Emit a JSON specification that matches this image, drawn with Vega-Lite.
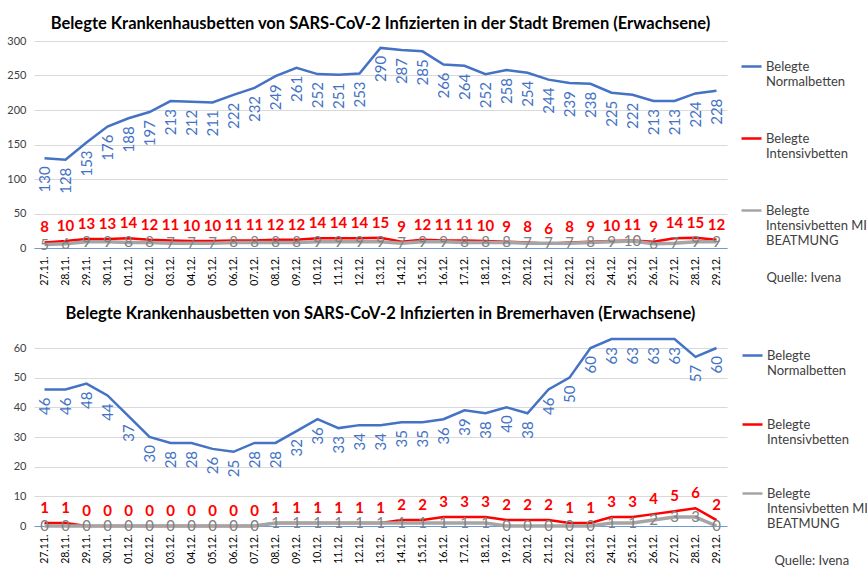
{
  "$schema": "https://vega.github.io/schema/vega-lite/v6.json",
  "background": "white",
  "padding": {"left": 4, "top": 15, "right": 0, "bottom": 0},
  "spacing": 19,
  "datasets": {
    "bremen": [
      {"d": "27.11.", "N": 130, "I": 8, "B": 5},
      {"d": "28.11.", "N": 128, "I": 10, "B": 6},
      {"d": "29.11.", "N": 153, "I": 13, "B": 9},
      {"d": "30.11.", "N": 176, "I": 13, "B": 9},
      {"d": "01.12.", "N": 188, "I": 14, "B": 8},
      {"d": "02.12.", "N": 197, "I": 12, "B": 8},
      {"d": "03.12.", "N": 213, "I": 11, "B": 7},
      {"d": "04.12.", "N": 212, "I": 10, "B": 7},
      {"d": "05.12.", "N": 211, "I": 10, "B": 7},
      {"d": "06.12.", "N": 222, "I": 11, "B": 8},
      {"d": "07.12.", "N": 232, "I": 11, "B": 8},
      {"d": "08.12.", "N": 249, "I": 12, "B": 8},
      {"d": "09.12.", "N": 261, "I": 12, "B": 8},
      {"d": "10.12.", "N": 252, "I": 14, "B": 9},
      {"d": "11.12.", "N": 251, "I": 14, "B": 9},
      {"d": "12.12.", "N": 253, "I": 14, "B": 9},
      {"d": "13.12.", "N": 290, "I": 15, "B": 9},
      {"d": "14.12.", "N": 287, "I": 9, "B": 7},
      {"d": "15.12.", "N": 285, "I": 12, "B": 9},
      {"d": "16.12.", "N": 266, "I": 11, "B": 9},
      {"d": "17.12.", "N": 264, "I": 11, "B": 8},
      {"d": "18.12.", "N": 252, "I": 10, "B": 8},
      {"d": "19.12.", "N": 258, "I": 9, "B": 8},
      {"d": "20.12.", "N": 254, "I": 8, "B": 7},
      {"d": "21.12.", "N": 244, "I": 6, "B": 7},
      {"d": "22.12.", "N": 239, "I": 8, "B": 7},
      {"d": "23.12.", "N": 238, "I": 9, "B": 8},
      {"d": "24.12.", "N": 225, "I": 10, "B": 9},
      {"d": "25.12.", "N": 222, "I": 11, "B": 10},
      {"d": "26.12.", "N": 213, "I": 9, "B": 6},
      {"d": "27.12.", "N": 213, "I": 14, "B": 7},
      {"d": "28.12.", "N": 224, "I": 15, "B": 9},
      {"d": "29.12.", "N": 228, "I": 12, "B": 9}
    ],
    "bremerhaven": [
      {"d": "27.11.", "N": 46, "I": 1, "B": 0},
      {"d": "28.11.", "N": 46, "I": 1, "B": 0},
      {"d": "29.11.", "N": 48, "I": 0, "B": 0},
      {"d": "30.11.", "N": 44, "I": 0, "B": 0},
      {"d": "01.12.", "N": 37, "I": 0, "B": 0},
      {"d": "02.12.", "N": 30, "I": 0, "B": 0},
      {"d": "03.12.", "N": 28, "I": 0, "B": 0},
      {"d": "04.12.", "N": 28, "I": 0, "B": 0},
      {"d": "05.12.", "N": 26, "I": 0, "B": 0},
      {"d": "06.12.", "N": 25, "I": 0, "B": 0},
      {"d": "07.12.", "N": 28, "I": 0, "B": 0},
      {"d": "08.12.", "N": 28, "I": 1, "B": 1},
      {"d": "09.12.", "N": 32, "I": 1, "B": 1},
      {"d": "10.12.", "N": 36, "I": 1, "B": 1},
      {"d": "11.12.", "N": 33, "I": 1, "B": 1},
      {"d": "12.12.", "N": 34, "I": 1, "B": 1},
      {"d": "13.12.", "N": 34, "I": 1, "B": 1},
      {"d": "14.12.", "N": 35, "I": 2, "B": 1},
      {"d": "15.12.", "N": 35, "I": 2, "B": 1},
      {"d": "16.12.", "N": 36, "I": 3, "B": 1},
      {"d": "17.12.", "N": 39, "I": 3, "B": 1},
      {"d": "18.12.", "N": 38, "I": 3, "B": 1},
      {"d": "19.12.", "N": 40, "I": 2, "B": 0},
      {"d": "20.12.", "N": 38, "I": 2, "B": 0},
      {"d": "21.12.", "N": 46, "I": 2, "B": 0},
      {"d": "22.12.", "N": 50, "I": 1, "B": 0},
      {"d": "23.12.", "N": 60, "I": 1, "B": 0},
      {"d": "24.12.", "N": 63, "I": 3, "B": 1},
      {"d": "25.12.", "N": 63, "I": 3, "B": 1},
      {"d": "26.12.", "N": 63, "I": 4, "B": 2},
      {"d": "27.12.", "N": 63, "I": 5, "B": 3},
      {"d": "28.12.", "N": 57, "I": 6, "B": 3},
      {"d": "29.12.", "N": 60, "I": 2, "B": 0}
    ]
  },
  "vconcat": [
    {
      "width": 693,
      "height": 207,
      "title": {"text": "Belegte Krankenhausbetten von SARS-CoV-2 Infizierten in der Stadt Bremen (Erwachsene)", "offset": 3},
      "data": {"name": "bremen"},
      "transform": [{"fold": ["N", "I", "B"], "as": ["k", "v"]}],
      "encoding": {
        "x": {"field": "d", "type": "ordinal", "sort": null,
              "axis": {"title": "Quelle: Ivena", "titleX": 732, "titleY": 29}},
        "y": {"field": "v", "type": "quantitative",
              "scale": {"domain": [0, 300], "nice": false},
              "axis": {"values": [0, 50, 100, 150, 200, 250, 300]}}
      },
      "layer": [
        {"transform": [{"filter": "datum.k == 'N'"}], "mark": {"type": "line", "strokeWidth": 2.5},
         "encoding": {"color": {"field": "k", "type": "nominal", "scale": {"domain": ["N", "I", "B"], "range": ["#4472C4", "#FF0000", "#A5A5A5"]},
           "legend": {"rowPadding": 38, "legendX": 706, "legendY": 14,
             "labelExpr": "datum.value == 'N' ? ['Belegte', 'Normalbetten'] : datum.value == 'I' ? ['Belegte', 'Intensivbetten'] : ['Belegte', 'Intensivbetten MIT', 'BEATMUNG']"}}}},
        {"transform": [{"filter": "datum.k == 'I'"}], "mark": {"type": "line", "strokeWidth": 2.5},
         "encoding": {"color": {"field": "k", "type": "nominal"}}},
        {"transform": [{"filter": "datum.k == 'B'"}], "mark": {"type": "line", "strokeWidth": 3.5},
         "encoding": {"color": {"field": "k", "type": "nominal"}}},
        {"transform": [{"filter": "datum.k == 'N'"}],
         "mark": {"type": "text", "angle": 270, "align": "right", "baseline": "middle", "font": "Lato", "fontSize": 15, "color": "#4472C4", "yOffset": 8},
         "encoding": {"text": {"field": "v", "type": "quantitative"}}},
        {"transform": [{"filter": "datum.k == 'I'"}],
         "mark": {"type": "text", "align": "center", "baseline": "alphabetic", "font": "Lato", "fontWeight": "bold", "fontSize": 15, "color": "#FF0000", "yOffset": -10},
         "encoding": {"text": {"field": "v", "type": "quantitative"}}},
        {"transform": [{"filter": "datum.k == 'B'"}],
         "mark": {"type": "text", "align": "center", "baseline": "middle", "font": "Lato", "fontSize": 15, "color": "#808080"},
         "encoding": {"text": {"field": "v", "type": "quantitative"}}}
      ]
    },
    {
      "width": 693,
      "height": 178,
      "title": {"text": "Belegte Krankenhausbetten von SARS-CoV-2 Infizierten in Bremerhaven (Erwachsene)", "offset": 12},
      "data": {"name": "bremerhaven"},
      "transform": [{"fold": ["N", "I", "B"], "as": ["k", "v"]}],
      "encoding": {
        "x": {"field": "d", "type": "ordinal", "sort": null,
              "axis": {"title": "Quelle: Ivena", "titleX": 740, "titleY": 34}},
        "y": {"field": "v", "type": "quantitative",
              "scale": {"domain": [0, 60], "nice": false},
              "axis": {"values": [0, 10, 20, 30, 40, 50, 60]}}
      },
      "layer": [
        {"transform": [{"filter": "datum.k == 'N'"}], "mark": {"type": "line", "strokeWidth": 2.5, "clip": false},
         "encoding": {"color": {"field": "k", "type": "nominal", "scale": {"domain": ["N", "I", "B"], "range": ["#4472C4", "#FF0000", "#A5A5A5"]},
           "legend": {"rowPadding": 35, "legendX": 707, "legendY": -4,
             "labelExpr": "datum.value == 'N' ? ['Belegte', 'Normalbetten'] : datum.value == 'I' ? ['Belegte', 'Intensivbetten'] : ['Belegte', 'Intensivbetten MIT', 'BEATMUNG']"}}}},
        {"transform": [{"filter": "datum.k == 'I'"}], "mark": {"type": "line", "strokeWidth": 2.5},
         "encoding": {"color": {"field": "k", "type": "nominal"}}},
        {"transform": [{"filter": "datum.k == 'B'"}], "mark": {"type": "line", "strokeWidth": 3.5},
         "encoding": {"color": {"field": "k", "type": "nominal"}}},
        {"transform": [{"filter": "datum.k == 'N'"}],
         "mark": {"type": "text", "angle": 270, "align": "right", "baseline": "middle", "font": "Lato", "fontSize": 15, "color": "#4472C4", "yOffset": 8},
         "encoding": {"text": {"field": "v", "type": "quantitative"}}},
        {"transform": [{"filter": "datum.k == 'I'"}],
         "mark": {"type": "text", "align": "center", "baseline": "alphabetic", "font": "Lato", "fontWeight": "bold", "fontSize": 15, "color": "#FF0000", "yOffset": -10},
         "encoding": {"text": {"field": "v", "type": "quantitative"}}},
        {"transform": [{"filter": "datum.k == 'B'"}],
         "mark": {"type": "text", "align": "center", "baseline": "middle", "font": "Lato", "fontSize": 15, "color": "#808080"},
         "encoding": {"text": {"field": "v", "type": "quantitative"}}}
      ]
    }
  ],
  "resolve": {"scale": {"color": "independent"}, "legend": {"color": "independent"}},
  "config": {
    "view": {"stroke": null},
    "title": {"font": "Lato", "fontSize": 16.5, "fontWeight": "bold", "color": "#000000", "anchor": "middle", "frame": "group"},
    "axisX": {"labelAngle": 270, "labelFont": "Lato", "labelFontSize": 10.5, "labelColor": "#000000", "labelPadding": 8,
              "ticks": false, "grid": false, "domainColor": "#6F9BD1", "domainWidth": 1,
              "titleFont": "Lato", "titleFontSize": 13, "titleFontWeight": "normal", "titleColor": "#404040",
              "titleAlign": "left", "titleBaseline": "middle", "titleAnchor": "start", "labelOverlap": false},
    "axisY": {"labelFont": "Lato", "labelFontSize": 11, "labelColor": "#404040", "labelPadding": 8,
              "ticks": false, "domain": false, "gridColor": "#D9D9D9", "gridWidth": 1, "title": null,
              "minExtent": 30, "maxExtent": 30},
    "legend": {"orient": "none", "title": null, "symbolType": "stroke", "symbolSize": 400, "symbolStrokeWidth": 2.5,
               "labelFont": "Lato", "labelFontSize": 13, "labelColor": "#404040", "labelOffset": 3,
               "labelLimit": 200}
  }
}
